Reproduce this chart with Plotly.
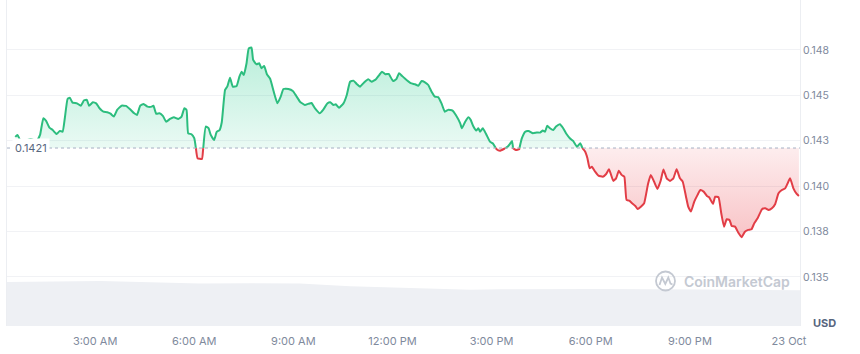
import pandas as pd
import plotly.graph_objects as go

# ---------------- data ----------------
BASE_PRICE = 0.1421
START_DAY = "2024-10-22"

price_times = [
    "00:35", "00:39", "00:44", "00:53", "01:03", "01:14", "01:20", "01:26", "01:31", "01:37",
    "01:43", "01:50", "01:56", "02:01", "02:05", "02:10", "02:14", "02:19", "02:27", "02:34",
    "02:40", "02:45", "02:49", "02:56", "03:02", "03:08", "03:15", "03:22", "03:28", "03:34",
    "03:40", "03:48", "03:56", "04:03", "04:11", "04:16", "04:22", "04:28", "04:35", "04:43",
    "04:46", "04:51", "04:57", "05:03", "05:09", "05:16", "05:23", "05:31", "05:37", "05:42",
    "05:46", "05:49", "05:55", "06:00", "06:03", "06:06", "06:14", "06:16", "06:21", "06:26",
    "06:30", "06:36", "06:41", "06:46", "06:50", "06:56", "07:00", "07:05", "07:10", "07:17",
    "07:22", "07:26", "07:30", "07:35", "07:39", "07:44", "07:47", "07:53", "07:58", "08:02",
    "08:07", "08:12", "08:18", "08:24", "08:31", "08:37", "08:42", "08:51", "08:59", "09:05",
    "09:12", "09:21", "09:27", "09:33", "09:39", "09:48", "09:54", "10:02", "10:07", "10:13",
    "10:17", "10:23", "10:31", "10:37", "10:43", "10:49", "10:55", "11:01", "11:08", "11:16",
    "11:22", "11:30", "11:36", "11:41", "11:47", "11:53", "12:01", "12:07", "12:12", "12:17",
    "12:22", "12:33", "12:41", "12:47", "12:53", "12:59", "13:05", "13:11", "13:17", "13:23",
    "13:29", "13:35", "13:41", "13:49", "13:55", "14:03", "14:06", "14:12", "14:18", "14:22",
    "14:27", "14:32", "14:36", "14:39", "14:44", "14:50", "14:57", "15:02", "15:09", "15:15",
    "15:23", "15:29", "15:33", "15:37", "15:39", "15:44", "15:50", "15:55", "16:01", "16:07",
    "16:15", "16:22", "16:28", "16:33", "16:37", "16:41", "16:46", "16:52", "16:57", "17:04",
    "17:10", "17:16", "17:22", "17:28", "17:35", "17:41", "17:45", "17:50", "17:54", "17:58",
    "18:02", "18:08", "18:14", "18:22", "18:28", "18:33", "18:36", "18:41", "18:46", "18:51",
    "18:56", "19:01", "19:05", "19:10", "19:15", "19:21", "19:25", "19:31", "19:37", "19:44",
    "19:49", "19:55", "20:01", "20:07", "20:12", "20:18", "20:24", "20:30", "20:36", "20:42",
    "20:47", "20:53", "20:57", "21:02", "21:08", "21:14", "21:19", "21:25", "21:31", "21:35",
    "21:42", "21:46", "21:52", "21:57", "22:02", "22:07", "22:12", "22:16", "22:22", "22:28",
    "22:34", "22:40", "22:46", "22:52", "22:57", "23:03", "23:11", "23:17", "23:23", "23:29",
    "23:35", "23:41", "23:47", "23:53", "23:57", "00:02", "00:08", "00:14", "00:18",
]

prices = [
    0.14271, 0.14282, 0.14254, 0.14249, 0.14260, 0.14249, 0.14282, 0.14374, 0.14359, 0.14322,
    0.14309, 0.14287, 0.14304, 0.14300, 0.14374, 0.14480, 0.14487, 0.14460, 0.14456, 0.14443,
    0.14473, 0.14475, 0.14443, 0.14462, 0.14456, 0.14429, 0.14410, 0.14407, 0.14399, 0.14383,
    0.14420, 0.14443, 0.14442, 0.14425, 0.14401, 0.14392, 0.14443, 0.14453, 0.14438, 0.14438,
    0.14443, 0.14398, 0.14401, 0.14387, 0.14355, 0.14370, 0.14379, 0.14370, 0.14383, 0.14429,
    0.14420, 0.14291, 0.14286, 0.14264, 0.14209, 0.14154, 0.14150, 0.14199, 0.14328, 0.14319,
    0.14282, 0.14254, 0.14300, 0.14309, 0.14352, 0.14530, 0.14548, 0.14597, 0.14548, 0.14552,
    0.14603, 0.14630, 0.14612, 0.14677, 0.14759, 0.14763, 0.14695, 0.14671, 0.14677, 0.14649,
    0.14662, 0.14616, 0.14590, 0.14524, 0.14456, 0.14493, 0.14535, 0.14535, 0.14524, 0.14498,
    0.14465, 0.14447, 0.14453, 0.14458, 0.14429, 0.14401, 0.14420, 0.14456, 0.14462, 0.14447,
    0.14451, 0.14432, 0.14456, 0.14502, 0.14575, 0.14581, 0.14563, 0.14548, 0.14570, 0.14589,
    0.14575, 0.14589, 0.14612, 0.14630, 0.14616, 0.14618, 0.14579, 0.14589, 0.14622, 0.14608,
    0.14594, 0.14567, 0.14561, 0.14553, 0.14579, 0.14572, 0.14557, 0.14520, 0.14493, 0.14490,
    0.14456, 0.14410, 0.14420, 0.14416, 0.14392, 0.14346, 0.14319, 0.14355, 0.14379, 0.14365,
    0.14328, 0.14306, 0.14319, 0.14300, 0.14319, 0.14287, 0.14245, 0.14236, 0.14203, 0.14195,
    0.14206, 0.14217, 0.14231, 0.14249, 0.14209, 0.14199, 0.14203, 0.14264, 0.14300, 0.14304,
    0.14291, 0.14295, 0.14295, 0.14306, 0.14300, 0.14333, 0.14319, 0.14309, 0.14328, 0.14341,
    0.14319, 0.14287, 0.14264, 0.14249, 0.14217, 0.14236, 0.14209, 0.14190, 0.14154, 0.14099,
    0.14107, 0.14080, 0.14058, 0.14052, 0.14067, 0.14093, 0.14071, 0.14029, 0.14043, 0.14085,
    0.14062, 0.14052, 0.13924, 0.13920, 0.13906, 0.13891, 0.13874, 0.13887, 0.13906, 0.14012,
    0.14062, 0.14025, 0.13985, 0.14030, 0.14092, 0.14043, 0.14029, 0.14043, 0.14093, 0.14043,
    0.14025, 0.13942, 0.13887, 0.13860, 0.13915, 0.13952, 0.13979, 0.13970, 0.13946, 0.13939,
    0.13902, 0.13942, 0.13939, 0.13851, 0.13777, 0.13818, 0.13814, 0.13781, 0.13777, 0.13744,
    0.13719, 0.13749, 0.13759, 0.13763, 0.13796, 0.13823, 0.13873, 0.13878, 0.13869, 0.13878,
    0.13902, 0.13961, 0.13979, 0.13988, 0.14012, 0.14043, 0.13988, 0.13957, 0.13946,
]

volume_times = ["00:20", "01:40", "03:10", "04:40", "06:10", "07:40", "09:12", "10:43",
                "11:50", "13:09", "14:22", "15:16", "18:18", "21:20", "00:20"]
volumes_m = [4.40, 4.44, 4.49, 4.37, 4.24, 4.27, 4.24, 3.98,
             3.88, 3.75, 3.63, 3.68, 3.71, 3.65, 3.58]

x_range = ["2024-10-22 00:20", "2024-10-23 00:20"]
x_tick_times = ["2024-10-22 03:00", "2024-10-22 06:00", "2024-10-22 09:00", "2024-10-22 12:00",
                "2024-10-22 15:00", "2024-10-22 18:00", "2024-10-22 21:00", "2024-10-23 00:00"]
x_tick_labels = ["3:00 AM", "6:00 AM", "9:00 AM", "12:00 PM", "3:00 PM", "6:00 PM", "9:00 PM", "23 Oct"]

y_tick_vals = [0.1475, 0.145, 0.1425, 0.14, 0.1375, 0.135]
y_tick_labels = ["0.148", "0.145", "0.143", "0.140", "0.138", "0.135"]

# ---------------- helpers ----------------
def to_datetimes(hhmm_list, start=START_DAY):
    day = pd.Timestamp(start)
    out, prev = [], -1
    for s in hhmm_list:
        h, m = map(int, s.split(":"))
        mins = h * 60 + m
        if mins < prev:
            day += pd.Timedelta(days=1)
        prev = mins
        out.append(day + pd.Timedelta(minutes=mins))
    return out

pt = to_datetimes(price_times)
vt = to_datetimes(volume_times)

# insert baseline crossings so the colour switches exactly at the baseline
xs, ys = [], []
for i in range(len(pt)):
    if i > 0:
        p0, p1 = prices[i - 1], prices[i]
        if (p0 - BASE_PRICE) * (p1 - BASE_PRICE) < 0:
            f = (BASE_PRICE - p0) / (p1 - p0)
            xs.append(pt[i - 1] + (pt[i] - pt[i - 1]) * f)
            ys.append(BASE_PRICE)
    xs.append(pt[i])
    ys.append(prices[i])

green_line = [y if y >= BASE_PRICE else None for y in ys]
red_line = [y if y <= BASE_PRICE else None for y in ys]
green_fill = [max(y, BASE_PRICE) for y in ys]
red_fill = [min(y, BASE_PRICE) for y in ys]
base_arr = [BASE_PRICE] * len(xs)

GREEN = "#2cbd7e"
RED = "#e23d46"
FONT = "Inter"

fig = go.Figure()

# volume area
fig.add_trace(go.Scatter(x=vt, y=volumes_m, yaxis="y2", mode="lines",
                         line=dict(width=0, color="#eef0f4"), fill="tozeroy",
                         fillcolor="#eef0f4", hoverinfo="skip", showlegend=False))

# green fill
fig.add_trace(go.Scatter(x=xs, y=base_arr, mode="lines", line=dict(width=0),
                         hoverinfo="skip", showlegend=False))
fig.add_trace(go.Scatter(x=xs, y=green_fill, mode="lines", line=dict(width=0),
                         fill="tonexty",
                         fillgradient=dict(type="vertical", start=BASE_PRICE, stop=max(prices),
                                           colorscale=[[0, "rgba(22,199,132,0.09)"],
                                                       [1, "rgba(22,199,132,0.30)"]]),
                         hoverinfo="skip", showlegend=False))
# red fill
fig.add_trace(go.Scatter(x=xs, y=base_arr, mode="lines", line=dict(width=0),
                         hoverinfo="skip", showlegend=False))
fig.add_trace(go.Scatter(x=xs, y=red_fill, mode="lines", line=dict(width=0),
                         fill="tonexty",
                         fillgradient=dict(type="vertical", start=min(prices), stop=BASE_PRICE,
                                           colorscale=[[0, "rgba(234,57,67,0.30)"],
                                                       [1, "rgba(234,57,67,0.09)"]]),
                         hoverinfo="skip", showlegend=False))

# price lines
fig.add_trace(go.Scatter(x=xs, y=green_line, mode="lines", connectgaps=False,
                         line=dict(color=GREEN, width=2, shape="spline", smoothing=0.4),
                         hoverinfo="skip", showlegend=False))
fig.add_trace(go.Scatter(x=xs, y=red_line, mode="lines", connectgaps=False,
                         line=dict(color=RED, width=2, shape="spline", smoothing=0.4),
                         hoverinfo="skip", showlegend=False))

# ---------------- layout ----------------
W, H = 860, 354
ML, MR, MT, MB = 7, 60, 0, 28
PW, PH = W - ML - MR, H - MT - MB

def px(x):
    return (x - ML) / PW

def py(y):
    return (H - MB - y) / PH

GRAY = "#c4c9d2"
shapes = [
    dict(type="line", xref="paper", yref="y", x0=0, x1=1, y0=BASE_PRICE, y1=BASE_PRICE,
         line=dict(color="#a6b0c3", width=1, dash="dot")),
    dict(type="circle", xref="paper", yref="paper",
         x0=px(656), x1=px(675), y0=py(290.5), y1=py(271.5),
         line=dict(color=GRAY, width=1.8)),
]
logo_pts = [(659.5, 285), (662, 277.5), (665.3, 284), (668.3, 277.5), (670.5, 283.5), (672.5, 284.5)]
path = "M " + " L ".join(f"{px(a):.5f},{py(b):.5f}" for a, b in logo_pts)
shapes.append(dict(type="path", xref="paper", yref="paper", path=path,
                   line=dict(color=GRAY, width=1.8)))

annotations = [
    dict(text="0.1421", xref="paper", yref="y", x=px(12), y=BASE_PRICE,
         xanchor="left", yanchor="middle", showarrow=False, bgcolor="white",
         borderpad=2, font=dict(family=FONT, size=11, color="#58667e")),
    dict(text="<b>USD</b>", xref="paper", yref="paper", x=px(811), y=py(323),
         xanchor="left", yanchor="middle", showarrow=False,
         font=dict(family=FONT, size=11, color="#58667e")),
    dict(text="CoinMarketCap", xref="paper", yref="paper", x=px(682), y=py(281),
         xanchor="left", yanchor="middle", showarrow=False,
         font=dict(family=FONT, size=14, color=GRAY, weight=600)),
]

fig.update_layout(
    width=W, height=H,
    margin=dict(l=ML, r=MR, t=MT, b=MB),
    paper_bgcolor="white", plot_bgcolor="white",
    hovermode=False, showlegend=False,
    xaxis=dict(type="date", range=x_range, tickvals=x_tick_times, ticktext=x_tick_labels,
               showgrid=False, zeroline=False, showline=False, ticks="",
               ticklabelstandoff=7,
               tickfont=dict(family=FONT, size=11, color="#808a9d")),
    yaxis=dict(side="right", range=[0.13230, 0.15025], tickvals=y_tick_vals,
               ticktext=y_tick_labels, showgrid=True, gridcolor="#f1f2f5", gridwidth=1,
               zeroline=False, showline=True, mirror=True, linecolor="#eceef2", ticks="",
               tickfont=dict(family=FONT, size=10.5, color="#808a9d")),
    yaxis2=dict(overlaying="y", range=[0, 32.6], visible=False),
    shapes=shapes,
    annotations=annotations,
)

fig.write_html("out.html")
